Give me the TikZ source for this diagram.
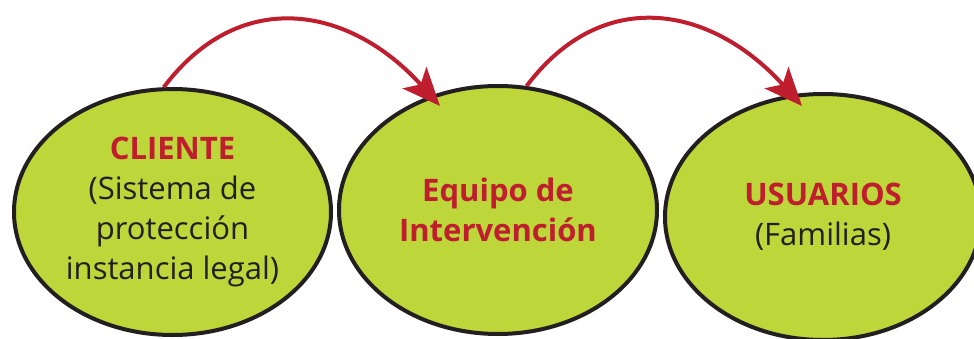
\documentclass[tikz,border=0pt]{standalone}
\usepackage{fontspec}
\setmainfont{Open Sans}
\usetikzlibrary{shapes.geometric,arrows.meta,calc}
\definecolor{ovalgreen}{RGB}{189,214,58}
\definecolor{accentred}{RGB}{190,30,45}
\definecolor{inkblack}{RGB}{35,31,32}
\newcommand{\ovalhead}[1]{\textcolor{accentred}{\bfseries #1}}
\begin{document}
\begin{tikzpicture}[x=1pt,y=1pt,
  oval/.style={ellipse, draw=inkblack, line width=4pt, fill=ovalgreen,
    inner sep=0pt, align=center, text=inkblack,
    font=\fontsize{31}{40}\selectfont},
  flow/.style={draw=accentred, line width=4pt,
    -{Stealth[length=38pt,width=32pt,inset=9pt]}}]
\useasboundingbox (0,0) rectangle (974,338);
\clip (0,0) rectangle (974,338);
\node[oval, minimum width=317pt, minimum height=246pt] (c1) at (172.5,126)
  {\ovalhead{CLIENTE}\\(Sistema de\\protección\\instancia legal)};
\node[oval, minimum width=318pt, minimum height=248pt] (c2) at (498,128)
  {\ovalhead{Equipo de}\\\ovalhead{Intervención}};
\node[oval, minimum width=316pt, minimum height=246pt] (c3) at (823,121)
  {\ovalhead{USUARIOS}\\(Familias)};
\coordinate (t1) at ($(c2.center)+(-58,104)$);
\coordinate (t2) at ($(c3.center)+(-21,111)$);
\draw[flow] (c1.94) .. controls +(76.6,101.7) and +(-89.7,99.6) .. (t1);
\draw[flow] (c2.77) .. controls +(76.6,101.7) and +(-89.7,99.6) .. (t2);
\end{tikzpicture}
\end{document}
